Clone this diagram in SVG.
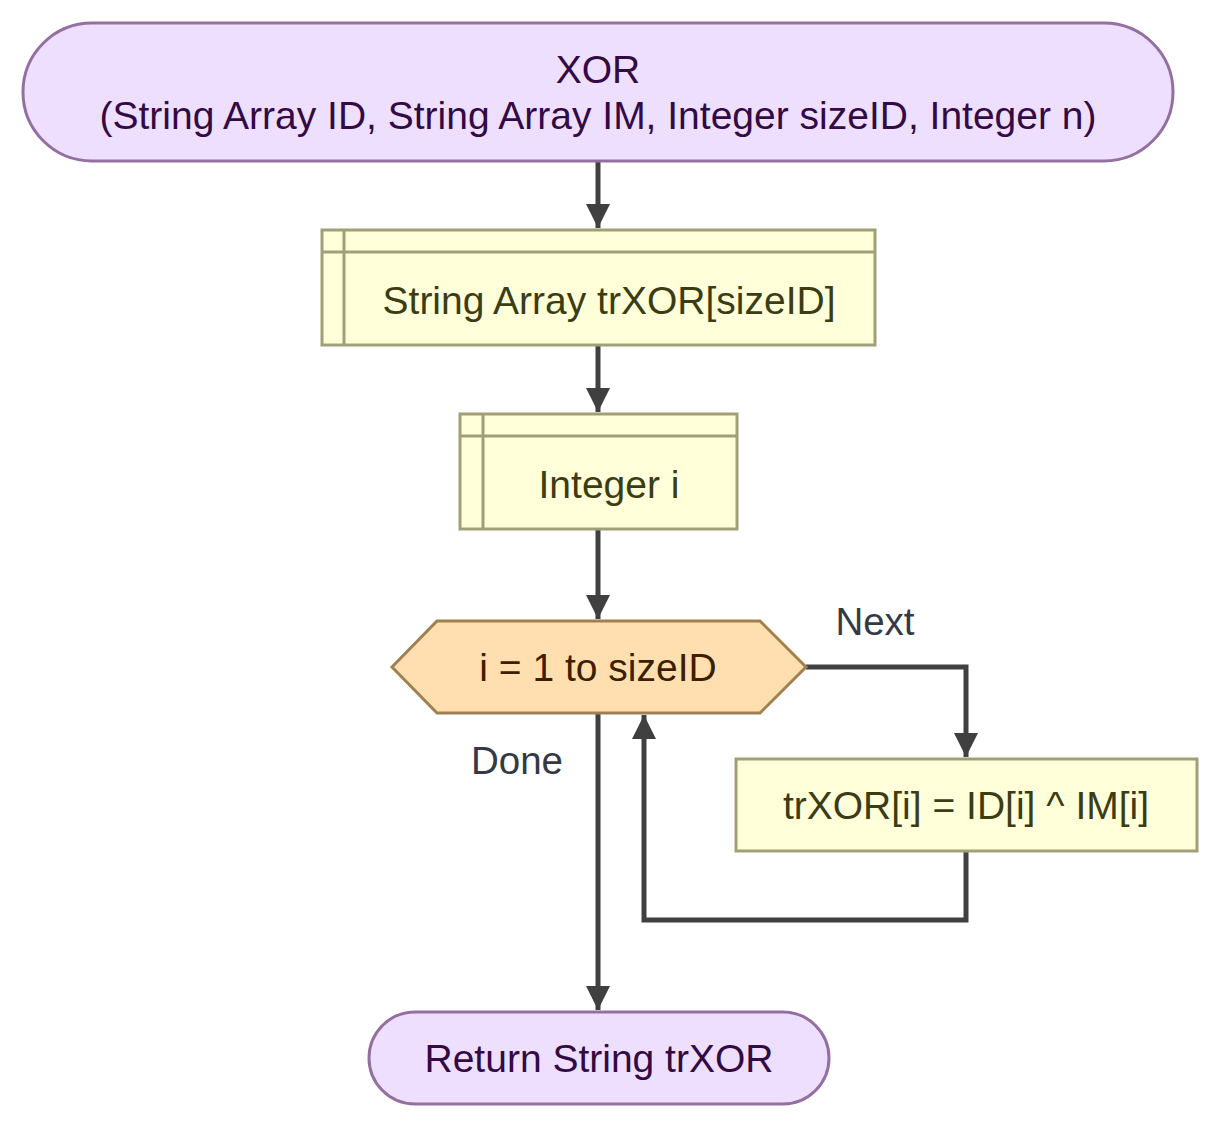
<svg xmlns="http://www.w3.org/2000/svg" width="1220" height="1128" viewBox="0 0 1220 1128">
<style>
.term{fill:#eedfff;stroke:#9370a0;stroke-width:3}
.proc{fill:#ffffd9;stroke:#a0a078;stroke-width:3}
.loop{fill:#ffdfb0;stroke:#a08050;stroke-width:3}
.t{font-family:"Liberation Sans",Arial,sans-serif;font-size:39px;text-anchor:middle;dominant-baseline:central}
.tt{fill:#330a44}
.tp{fill:#3c3c14}
.tl{fill:#3c1e00}
.lbl{font-family:"Liberation Sans",Arial,sans-serif;font-size:38.5px;fill:#333a44;text-anchor:middle;dominant-baseline:central}
.c{fill:none;stroke:#404040;stroke-width:5}
</style>
<defs>
<marker id="ah" markerUnits="userSpaceOnUse" markerWidth="26" markerHeight="24" refX="24" refY="12" orient="auto">
<path d="M0,0 L24,12 L0,24 Z" fill="#404040"/>
</marker>
</defs>
<g id="connectors">
<path class="c" d="M598,161 L598,228" marker-end="url(#ah)"/>
<path class="c" d="M598,345 L598,412" marker-end="url(#ah)"/>
<path class="c" d="M598,529 L598,619" marker-end="url(#ah)"/>
<path class="c" d="M806,667 L966,667 L966,757" marker-end="url(#ah)"/>
<path class="c" d="M966,851 L966,920 L644,920 L644,715" marker-end="url(#ah)"/>
<path class="c" d="M598,713 L598,1010" marker-end="url(#ah)"/>
<text class="lbl" x="875" y="621">Next</text>
<text class="lbl" x="517" y="760">Done</text>
</g>
<g id="start">
<rect class="term" x="23" y="23" width="1150" height="138" rx="69" ry="69"/>
<text class="t tt" x="598" y="69">XOR</text>
<text class="t tt" x="598" y="115">(String Array ID, String Array IM, Integer sizeID, Integer n)</text>
</g>
<g id="decl1">
<rect class="proc" x="322" y="230" width="553" height="115"/>
<path class="proc" d="M344,230 L344,345 M322,252 L875,252"/>
<text class="t tp" x="609" y="300">String Array trXOR[sizeID]</text>
</g>
<g id="decl2">
<rect class="proc" x="460" y="414" width="277" height="115"/>
<path class="proc" d="M483,414 L483,529 M460,436 L737,436"/>
<text class="t tp" x="609" y="484">Integer i</text>
</g>
<g id="loop">
<polygon class="loop" points="392,667 437,621 760,621 806,667 760,713 437,713"/>
<text class="t tl" x="598" y="667">i = 1 to sizeID</text>
</g>
<g id="assign">
<rect class="proc" x="736" y="759" width="461" height="92"/>
<text class="t tp" x="966" y="805">trXOR[i] = ID[i] ^ IM[i]</text>
</g>
<g id="end">
<rect class="term" x="369" y="1012" width="460" height="92" rx="46" ry="46"/>
<text class="t tt" x="599" y="1058">Return String trXOR</text>
</g>
</svg>
